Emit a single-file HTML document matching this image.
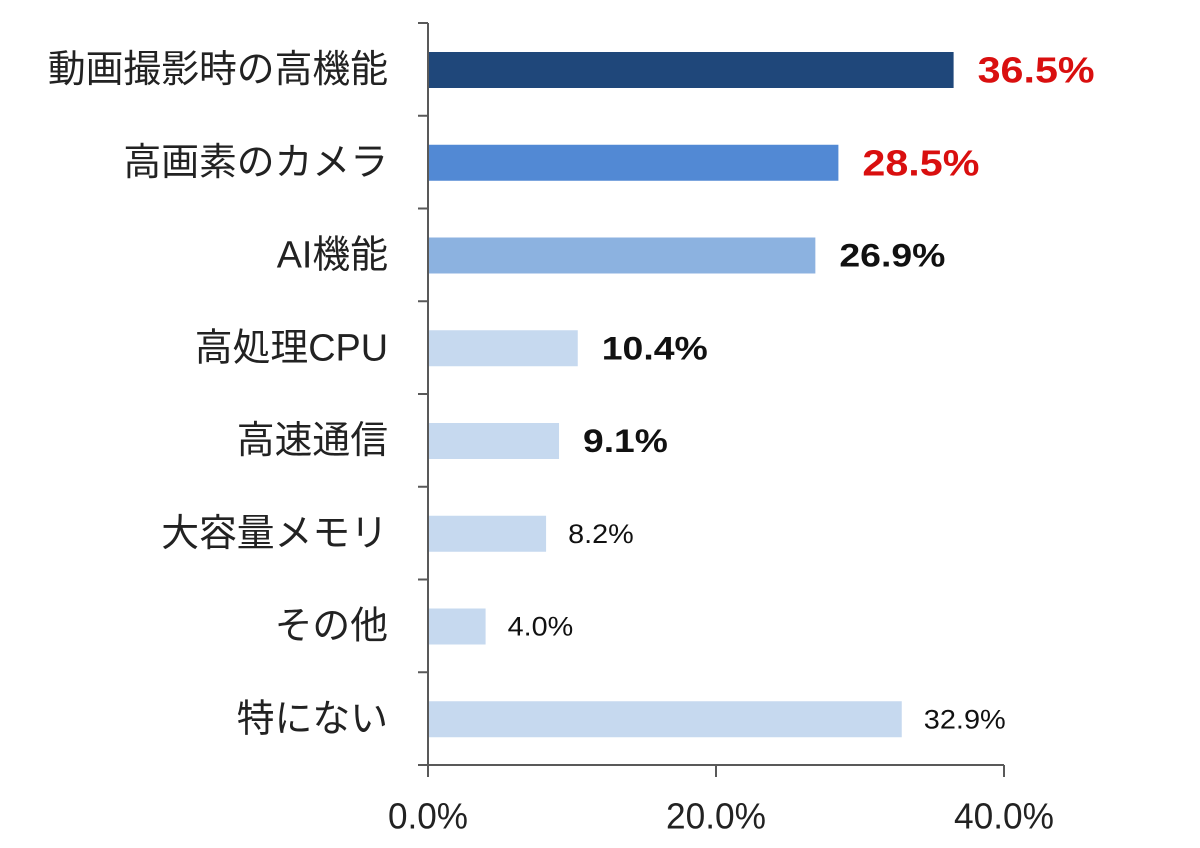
<!DOCTYPE html>
<html><head><meta charset="utf-8"><style>
html,body{margin:0;padding:0;background:#fff;}
svg text{font-family:"Liberation Sans","Noto Sans CJK JP",sans-serif;}
</style></head><body>
<svg id="chart" width="1200" height="843" xmlns="http://www.w3.org/2000/svg"></svg>
<script>
const categories=["動画撮影時の高機能","高画素のカメラ","AI機能","高処理CPU","高速通信","大容量メモリ","その他","特にない"];
const values=[36.5,28.5,26.9,10.4,9.1,8.2,4.0,32.9];
const tickValues=[0,20,40];
const tickLabels=["0.0%","20.0%","40.0%"];
const barColors=["#1f477a","#5289d4","#8cb2e0","#c6d9ef","#c6d9ef","#c6d9ef","#c6d9ef","#c6d9ef"];
const labelStyles=["red","red","bold","bold","bold","normal","normal","normal"];

const NS="http://www.w3.org/2000/svg";
const svg=document.getElementById('chart');
const x0=428,x1=1004,yTop=23,yBot=765;
const xs=v=>x0+(v-0)/(40-0)*(x1-x0);
const band=(yBot-yTop)/categories.length;
function mk(t,a){const e=document.createElementNS(NS,t);for(const k in a)e.setAttribute(k,a[k]);svg.appendChild(e);return e;}

categories.forEach((c,i)=>{
  const yb=yTop+band*i;
  const r=mk('rect',{x:x0,y:yb+29,width:xs(values[i])-x0,height:36,fill:barColors[i]});
  
  
  const t=mk('text',{x:388,y:yb+47,'text-anchor':'end','dominant-baseline':'central','font-size':37.8,fill:'#222'});
  t.textContent=c;
  
  
  const s=labelStyles[i];
  const txt=values[i].toFixed(1)+'%';
  const perChar=s==='red'?23.4:(s==='bold'?21.2:16.4);
  const v=mk('text',{x:xs(values[i])+(s==='normal'?22:24),y:yb+47,'dominant-baseline':'central',
    'font-size':s==='red'?36:(s==='bold'?32:27),'font-weight':s==='normal'?'normal':'bold',fill:s==='red'?'#d90f0f':'#111',
    textLength:perChar*txt.length,lengthAdjust:'spacingAndGlyphs'});
  v.textContent=txt;
  
  
});
for(let i=0;i<=categories.length;i++){
  const y=yTop+band*i;
  const tk=mk('line',{x1:x0-10,x2:x0,y1:y,y2:y,stroke:'#595959','stroke-width':2});
  
  
}
const ya=mk('line',{x1:x0,x2:x0,y1:yTop,y2:yBot,stroke:'#595959','stroke-width':2});


const xa=mk('line',{x1:x0,x2:x1,y1:yBot,y2:yBot,stroke:'#595959','stroke-width':2});


tickValues.forEach((v,i)=>{
  const tk=mk('line',{x1:xs(v),x2:xs(v),y1:yBot,y2:yBot+12,stroke:'#595959','stroke-width':2});
  
  
  const t=mk('text',{x:xs(v),y:816,'text-anchor':'middle','dominant-baseline':'central','font-size':36,fill:'#222',
    textLength:20*tickLabels[i].length,lengthAdjust:'spacingAndGlyphs'});
  t.textContent=tickLabels[i];
  
  
});
</script>
</body></html>
